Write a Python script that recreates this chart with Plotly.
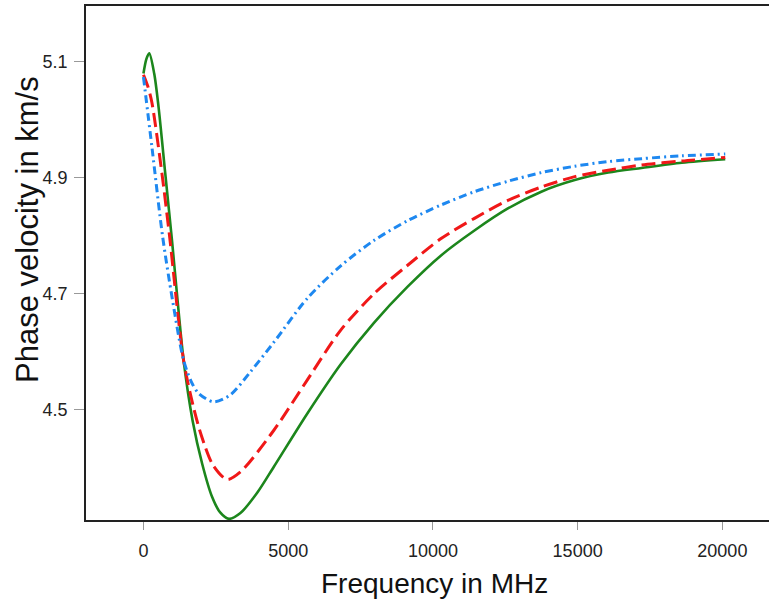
import plotly.graph_objects as go

# Frequency (MHz) and phase velocity (km/s)
freq_green = [0, 100, 200, 371, 520, 752, 983, 1386, 1700, 2024, 2370, 2650, 2950, 3350, 3929, 4505, 5662, 6816, 7970, 9127, 10281, 11435, 12590, 13745, 14899, 16055, 17209, 18600, 20100]
vel_green = [5.080, 5.105, 5.115, 5.080, 5.023, 4.908, 4.793, 4.585, 4.480, 4.407, 4.349, 4.322, 4.311, 4.321, 4.356, 4.401, 4.493, 4.578, 4.650, 4.712, 4.766, 4.809, 4.847, 4.876, 4.896, 4.909, 4.917, 4.926, 4.932]

freq_red = [0, 150, 291, 637, 900, 1386, 1732, 2000, 2400, 2890, 3351, 4505, 5662, 6816, 7970, 9127, 10281, 11435, 12590, 13745, 14899, 16055, 17209, 18600, 20100]
vel_red = [5.078, 5.058, 5.030, 4.908, 4.800, 4.585, 4.503, 4.455, 4.404, 4.379, 4.392, 4.464, 4.551, 4.637, 4.700, 4.749, 4.795, 4.830, 4.861, 4.884, 4.902, 4.913, 4.922, 4.929, 4.935]

freq_blue = [0, 300, 658, 1000, 1386, 1650, 1900, 2426, 3000, 3697, 4505, 5662, 6816, 7970, 9127, 10281, 11435, 12590, 13745, 14899, 16055, 17209, 18600, 20100]
vel_blue = [5.074, 4.950, 4.800, 4.690, 4.585, 4.548, 4.528, 4.513, 4.525, 4.565, 4.616, 4.692, 4.748, 4.792, 4.826, 4.853, 4.876, 4.894, 4.909, 4.920, 4.928, 4.933, 4.938, 4.941]

x_ticks = [0, 5000, 10000, 15000, 20000]
y_ticks = [4.5, 4.7, 4.9, 5.1]

fig = go.Figure()
fig.add_trace(go.Scatter(x=freq_green, y=vel_green, mode="lines",
                         line=dict(color="#1c861c", width=2.6, shape="spline", smoothing=0.8)))
fig.add_trace(go.Scatter(x=freq_red, y=vel_red, mode="lines",
                         line=dict(color="#f01818", width=3, dash="14px,6px", shape="spline", smoothing=0.8)))
fig.add_trace(go.Scatter(x=freq_blue, y=vel_blue, mode="lines",
                         line=dict(color="#1e88f0", width=3, dash="8px,4px,2px,4px", shape="spline", smoothing=0.8)))

font_family = "Liberation Sans, Arial, sans-serif"
L, R, T, B = 86, 769, 6, 520

fig.update_layout(
    width=769, height=599,
    margin=dict(l=L, r=769 - R, t=T, b=599 - B),
    paper_bgcolor="white", plot_bgcolor="white",
    showlegend=False,
    font=dict(family=font_family, color="#222"),
    xaxis=dict(range=[-1985, 21611], tickvals=x_ticks, ticktext=[str(v) for v in x_ticks],
               showgrid=False, zeroline=False, showline=True, linecolor="#222", linewidth=1.5,
               mirror=True, ticks="outside", ticklen=8, tickcolor="#999", tickwidth=1.2,
               tickfont=dict(size=18, family=font_family, color="#222"), ticklabelstandoff=6),
    yaxis=dict(range=[4.309, 5.1967], tickvals=y_ticks, ticktext=[str(v) for v in y_ticks],
               showgrid=False, zeroline=False, showline=True, linecolor="#222", linewidth=1.5,
               ticks="outside", ticklen=10, tickcolor="#999", tickwidth=1.2,
               tickfont=dict(size=18, family=font_family, color="#222"), ticklabelstandoff=3),
    annotations=[
        dict(text="Frequency in MHz", xref="paper", yref="paper",
             x=(434 - L) / (R - L), y=(B - 583) / (B - T),
             xanchor="center", yanchor="middle",
             showarrow=False, font=dict(size=28, family=font_family, color="#111")),
        dict(text="Phase velocity in km/s", xref="paper", yref="paper",
             x=(27 - L) / (R - L), y=(B - 230) / (B - T), textangle=-90,
             xanchor="center", yanchor="middle",
             showarrow=False, font=dict(size=31, family=font_family, color="#111")),
    ],
)

fig.write_html("out.html", config={"displayModeBar": False},
               post_script="document.body.style.margin='0px';")
